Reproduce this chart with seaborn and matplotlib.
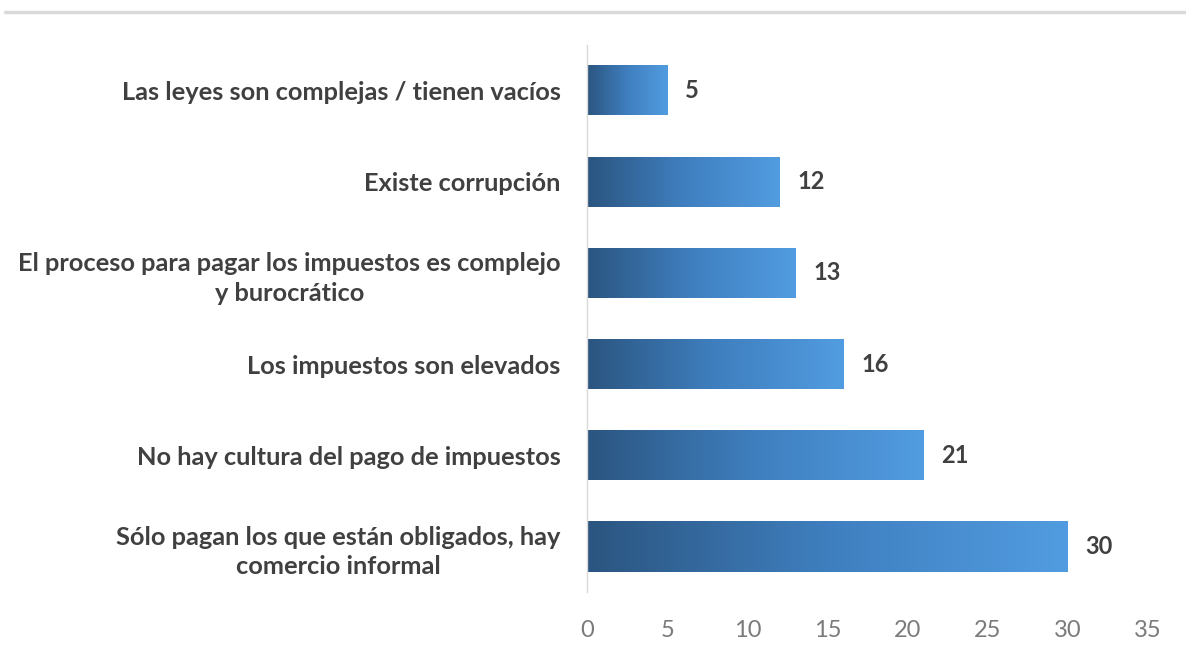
import numpy as np
import pandas as pd
import matplotlib
matplotlib.use("Agg")
import matplotlib.pyplot as plt
import seaborn as sns
from matplotlib.colors import LinearSegmentedColormap

categories = [
    "Las leyes son complejas / tienen vacíos",
    "Existe corrupción",
    "El proceso para pagar los impuestos es complejo\ny burocrático",
    "Los impuestos son elevados",
    "No hay cultura del pago de impuestos",
    "Sólo pagan los que están obligados, hay\ncomercio informal",
]
values = [5, 12, 13, 16, 21, 30]
x_ticks = [0, 5, 10, 15, 20, 25, 30, 35]

sns.set_style("white")
plt.rcParams["font.family"] = ["Lato", "DejaVu Sans"]

df = pd.DataFrame({"reason": categories, "value": values})

fig = plt.figure(figsize=(11.86, 6.58), dpi=100)
ax = fig.add_axes([0.495, 0.100, 0.473, 0.832])

sns.barplot(data=df, y="reason", x="value", orient="h", color="#3d77b4",
            width=0.55, ax=ax)

# horizontal gradient inside each bar
grad = LinearSegmentedColormap.from_list("bar", ["#2b5580", "#3f7fbf", "#519ce0"])
ramp = np.linspace(0, 1, 256).reshape(1, -1)
for bar in ax.patches:
    x0, y0 = bar.get_x(), bar.get_y()
    w, h = bar.get_width(), bar.get_height()
    im = ax.imshow(ramp, cmap=grad, aspect="auto", extent=[x0, x0 + w, y0 + h, y0],
                   zorder=bar.get_zorder() + 0.1)
    im.set_clip_path(bar)
    ax.text(x0 + w + 1.1, y0 + h / 2, f"{w:g}", va="center", ha="left",
            fontsize=17, fontweight="bold", color="#404040")

ax.set_xlim(0, 35)
ax.set_ylim(len(categories) - 0.5, -0.5)
ax.set_xticks(x_ticks)
ax.set_xlabel("")
ax.set_ylabel("")
ax.tick_params(axis="x", labelsize=17, colors="#7a7a7a", length=0, pad=20)
ax.tick_params(axis="y", length=0, pad=19)
for lab in ax.get_yticklabels():
    lab.set_fontsize(18.3)
    lab.set_fontweight("bold")
    lab.set_color("#404040")
    lab.set_multialignment("center")
    lab.set_linespacing(1.35)

for side in ["top", "right", "bottom"]:
    ax.spines[side].set_visible(False)
ax.spines["left"].set_color("#d9d9d9")
ax.spines["left"].set_linewidth(1)

# thin gray rule across the top of the slide
fig.add_artist(plt.Line2D([0.004, 1.0], [0.982, 0.982], color="#d9d9d9", lw=2.5,
                          transform=fig.transFigure))

fig.savefig("out.png", dpi=100, facecolor="white")
